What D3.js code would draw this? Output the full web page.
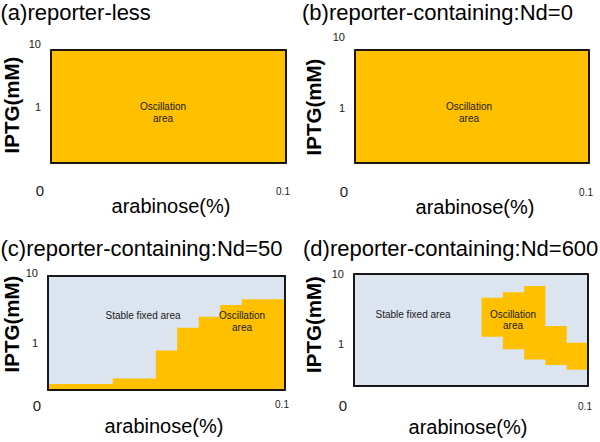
<!DOCTYPE html>
<html><head><meta charset="utf-8">
<script src="https://cdn.jsdelivr.net/npm/d3@7"></script>
<style>html,body{margin:0;padding:0;background:#fff;} svg{display:block;font-family:"Liberation Sans",Arial,sans-serif;}</style>
</head><body>
<svg id="chart" width="600" height="442"></svg>
<script>
// ---------- data ----------
const panelTitles = ["(a)reporter-less", "(b)reporter-containing:Nd=0", "(c)reporter-containing:Nd=50", "(d)reporter-containing:Nd=600"];
const xAxisTitle = "arabinose(%)";
const yAxisTitle = "IPTG(mM)";
const arabinoseExtent = [0, 0.1];
const arabinoseTicks = [0, 0.1];
const arabinoseTickLabels = ["0", "0.1"];
const iptgTicks = [10, 1];
const iptgTickLabels = ["10", "1"];
// column edges of the arabinose grid (11 columns)
const arabinoseEdges = [0, 0.0091, 0.0182, 0.0273, 0.0364, 0.0455, 0.0545, 0.0636, 0.0727, 0.0818, 0.0909, 0.1];
// IPTG extent shown in each panel (log axis)
const iptgExtentA = [0.13, 8.0];
const iptgExtentB = [0.168, 6.56];
const iptgExtentC = [0.213, 9.06];
const iptgExtentD = [0.251, 10];
// oscillation region, per arabinose column (lower / upper IPTG bound)
const oscLowC  = [0.213, 0.213, 0.213, 0.213, 0.213, 0.213, 0.213, 0.213, 0.213, 0.213, 0.213];
const oscHighC = [0.26, 0.26, 0.26, 0.31, 0.31, 0.78, 1.65, 2.37, 3.49, 4.21, 4.21];
const oscLowD  = [null, null, null, null, null, null, 1.27, 0.84, 0.60, 0.50, 0.43];
const oscHighD = [null, null, null, null, null, null, 4.58, 5.48, 6.74, 1.81, 1.04];
const regionLabels = { osc: ["Oscillation", "area"], stable: "Stable fixed area" };

// ---------- layout ----------
const colors = { osc: "#FFC000", stable: "#DCE4EF", border: "#000", text: "#1a1a1a" };
const panels = [
  { title: panelTitles[0], extent: iptgExtentA, low: null, high: null, background: "osc",
    box: {x0: 51, x1: 286, y0: 50, y1: 163}, titlePos: [0.5, 20], xlab: [171, 213], ylab: [19, 105],
    tickY: [191, 191], oscLab: [163, 110], stableLab: null },
  { title: panelTitles[1], extent: iptgExtentB, low: null, high: null, background: "osc",
    box: {x0: 355, x1: 589, y0: 50, y1: 163}, titlePos: [302, 20], xlab: [475, 214], ylab: [321, 107],
    tickY: [192, 192], oscLab: [469, 110], stableLab: null },
  { title: panelTitles[2], extent: iptgExtentC, low: oscLowC, high: oscHighC, background: "stable",
    box: {x0: 48, x1: 285, y0: 276, y1: 390}, titlePos: [0.5, 256], xlab: [164, 433], ylab: [19, 324],
    tickY: [406, 404], oscLab: [242, 319.3], stableLab: [143, 319.3] },
  { title: panelTitles[3], extent: iptgExtentD, low: oscLowD, high: oscHighD, background: "stable",
    box: {x0: 354, x1: 588, y0: 274, y1: 386}, titlePos: [303, 256], xlab: [468, 434], ylab: [321, 324.5],
    tickY: [406, 406], oscLab: [513, 317.7], stableLab: [413, 317.7] }
];

const svg = d3.select("#chart");
svg.append("rect").attr("width", 600).attr("height", 442).attr("fill", "#fff");

panels.forEach(p => {
  const g = svg.append("g");
  const x = d3.scaleLinear().domain(arabinoseExtent).range([p.box.x0, p.box.x1]);
  const y = d3.scaleLog().domain(p.extent).range([p.box.y1, p.box.y0]);

  // background region
  g.append("rect")
    .attr("x", x(arabinoseExtent[0])).attr("y", y(p.extent[1]))
    .attr("width", x(arabinoseExtent[1]) - x(arabinoseExtent[0]))
    .attr("height", y(p.extent[0]) - y(p.extent[1]))
    .attr("fill", colors[p.background]);

  // oscillation region (stepped)
  if (p.high) {
    const pts = p.high.map((h, i) => ({ x: arabinoseEdges[i], lo: p.low[i], hi: h }));
    const last = pts[pts.length - 1];
    pts.push({ x: arabinoseEdges[arabinoseEdges.length - 1], lo: last.lo, hi: last.hi });
    const area = d3.area()
      .defined(d => d.hi != null)
      .x(d => x(d.x)).y0(d => y(d.lo)).y1(d => y(d.hi))
      .curve(d3.curveStepAfter);
    g.append("path").attr("d", area(pts)).attr("fill", colors.osc);
  }

  // border
  g.append("rect")
    .attr("x", x(arabinoseExtent[0])).attr("y", y(p.extent[1]))
    .attr("width", x(arabinoseExtent[1]) - x(arabinoseExtent[0]))
    .attr("height", y(p.extent[0]) - y(p.extent[1]))
    .attr("fill", "none").attr("stroke", colors.border).attr("stroke-width", 1.8);

  // y tick labels
  iptgTicks.forEach((v, i) => {
    g.append("text").attr("x", p.box.x0 - 10).attr("y", y(v)).attr("dy", "0.35em")
      .attr("text-anchor", "end").attr("font-size", 11).attr("fill", colors.text)
      .text(iptgTickLabels[i]);
  });
  // x tick labels
  arabinoseTicks.forEach((v, i) => {
    const off = i === 0 ? -11 : -3;
    g.append("text").attr("x", x(v) + off).attr("y", p.tickY[i]).attr("dy", "0.35em")
      .attr("text-anchor", "middle").attr("font-size", i === 0 ? 15 : 10).attr("fill", colors.text)
      .text(arabinoseTickLabels[i]);
  });

  // titles
  g.append("text").attr("x", p.titlePos[0]).attr("y", p.titlePos[1])
    .attr("font-size", 22).attr("fill", "#000").text(p.title);
  g.append("text").attr("x", p.xlab[0]).attr("y", p.xlab[1]).attr("text-anchor", "middle")
    .attr("font-size", 20).attr("fill", "#000").text(xAxisTitle);
  g.append("text").attr("transform", `translate(${p.ylab[0]},${p.ylab[1]}) rotate(-90)`)
    .attr("text-anchor", "middle").attr("font-size", 20.5).attr("font-weight", "bold")
    .attr("fill", "#000").text(yAxisTitle);

  // region labels
  const ot = g.append("text").attr("text-anchor", "middle").attr("font-size", 10).attr("fill", colors.text);
  regionLabels.osc.forEach((s, i) => {
    ot.append("tspan").attr("x", p.oscLab[0]).attr("y", p.oscLab[1] + i * 11.7).text(s);
  });
  if (p.stableLab) {
    g.append("text").attr("x", p.stableLab[0]).attr("y", p.stableLab[1]).attr("text-anchor", "middle")
      .attr("font-size", 10).attr("fill", colors.text).text(regionLabels.stable);
  }
});
</script>
</body></html>
